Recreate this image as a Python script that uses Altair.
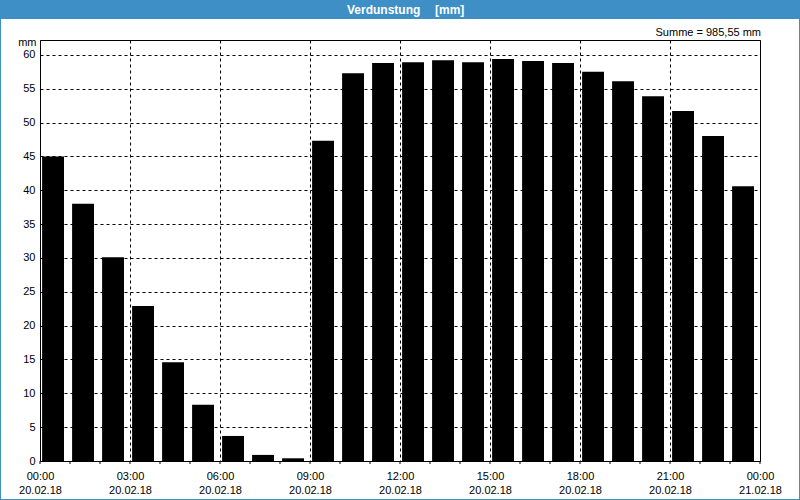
import altair as alt
import pandas as pd

# ---- data ----
hours = list(range(24))
values = [45.0, 38.0, 30.1, 22.9, 14.6, 8.3, 3.7, 0.9, 0.4, 47.3, 57.3, 58.8,
          58.9, 59.2, 58.9, 59.4, 59.1, 58.8, 57.5, 56.1, 53.9, 51.7, 48.0, 40.6]
major_ticks = [0, 3, 6, 9, 12, 15, 18, 21, 24]
minor_ticks = list(range(25))
y_ticks = [0, 5, 10, 15, 20, 25, 30, 35, 40, 45, 50, 55, 60]
title_main = "Verdunstung"
title_unit = "[mm]"
sum_label = "Summe = 985,55 mm"
y_unit = "mm"
day1 = "20.02.18"
day2 = "21.02.18"

FONT = "Liberation Sans"
BLUE = "#3d8fc6"
W, H = 720, 421

df = pd.DataFrame({"hour": hours, "value": values})
ticks_df = pd.DataFrame({"t": minor_ticks})

xscale = alt.Scale(domain=[0, 24], nice=False, zero=False)
yscale = alt.Scale(domain=[0, 62.2], nice=False)

label_expr = (
    "[(datum.value % 24 < 10 ? '0' : '') + (datum.value % 24) + ':00', "
    "datum.value < 24 ? '" + day1 + "' : '" + day2 + "']"
)

x_axis = alt.Axis(
    values=major_ticks, labelExpr=label_expr, title=None, ticks=False,
    domain=False, grid=True, gridColor="black", gridDash=[3, 3],
    gridOpacity=1, gridWidth=1, labelPadding=9, labelBaseline="top",
    labelLineHeight=14, labelFont=FONT, labelFontSize=11, labelColor="black",
    labelAngle=0, labelFlush=False, labelOverlap=False,
)
y_axis = alt.Axis(
    values=y_ticks, title=y_unit, titleAngle=0, titleAlign="right",
    titleBaseline="alphabetic", titleX=-4, titleY=5, titleFont=FONT,
    titleFontSize=11, titleFontWeight="normal", titleColor="black",
    ticks=False, domain=False, grid=True, gridColor="black", gridDash=[3, 3],
    gridOpacity=1, gridWidth=1, labelPadding=5, labelFont=FONT,
    labelFontSize=11, labelColor="black", labelFlush=False, labelOverlap=False,
)

bars = alt.Chart(df).transform_calculate(
    x0="datum.hour + 0.07", x1="datum.hour + 0.8"
).mark_bar(color="black").encode(
    x=alt.X("x0:Q", scale=xscale, axis=x_axis),
    x2="x1:Q",
    y=alt.Y("value:Q", scale=yscale, axis=y_axis),
    y2=alt.datum(0),
)

minor = alt.Chart(ticks_df).mark_rule(color="black", strokeWidth=1).encode(
    x=alt.X("t:Q", scale=xscale, axis=x_axis),
    y=alt.value(H),
    y2=alt.value(H + 3),
)

title_bar = alt.Chart(pd.DataFrame({"a": [0]})).mark_rect(color=BLUE).encode(
    x=alt.value(-40), x2=alt.value(760), y=alt.value(-40), y2=alt.value(-21)
)
title_txt1 = alt.Chart(pd.DataFrame({"a": [0]})).mark_text(
    text=title_main, font=FONT, fontSize=12, fontWeight="bold", color="white",
    align="left", baseline="alphabetic"
).encode(x=alt.value(307), y=alt.value(-26))
title_txt2 = alt.Chart(pd.DataFrame({"a": [0]})).mark_text(
    text=title_unit, font=FONT, fontSize=12, fontWeight="bold", color="white",
    align="left", baseline="alphabetic"
).encode(x=alt.value(395), y=alt.value(-26))
sum_txt = alt.Chart(pd.DataFrame({"a": [0]})).mark_text(
    text=sum_label, font=FONT, fontSize=11, color="black",
    align="right", baseline="alphabetic"
).encode(x=alt.value(721), y=alt.value(-4))
frame = alt.Chart(pd.DataFrame({"a": [0]})).mark_rect(
    filled=False, stroke=BLUE, strokeWidth=2
).encode(x=alt.value(-40), x2=alt.value(760), y=alt.value(-40), y2=alt.value(460))

chart = alt.layer(
    bars, minor, title_bar, title_txt1, title_txt2, sum_txt, frame
).properties(
    width=W, height=H,
    autosize=alt.AutoSizeParams(type="none"),
    padding={"left": 40, "top": 40, "right": 40, "bottom": 39},
    background="white",
).configure_view(stroke="black", strokeWidth=1, fill="white")

chart.save("out.html", embed_options={"renderer": "svg", "actions": False})
